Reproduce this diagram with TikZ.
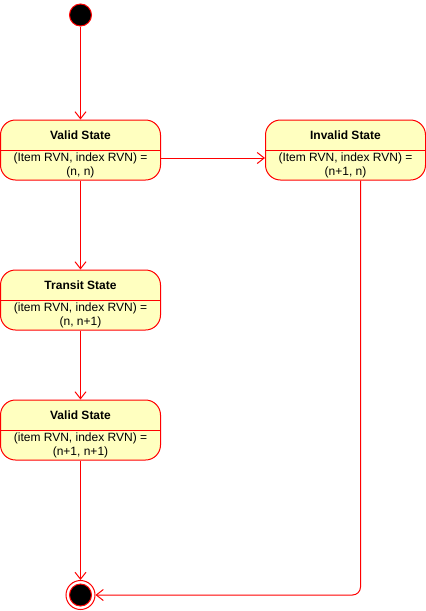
\documentclass[tikz,border=0pt]{standalone}
\usepackage{fontspec}
\setmainfont{Liberation Sans}
\usetikzlibrary{arrows.meta, positioning, calc}
\definecolor{statefill}{RGB}{255, 255, 192}
\definecolor{statered}{RGB}{255, 0, 0}

\tikzset{
  state/.style={draw=statered, fill=statefill, line width=1pt, rounded corners=15pt, minimum width=160pt, minimum height=60pt, inner sep=0pt},
  statetitle/.style={font=\fontsize{12}{14}\selectfont\bfseries, inner sep=0pt},
  statebody/.style={font=\fontsize{12}{14}\selectfont, align=center, inner sep=0pt},
  divider/.style={draw=statered, line width=1pt},
  flow/.style={draw=statered, line width=1pt, -{Straight Barb[length=7pt, width=11pt]}},
  startdot/.style={circle, draw=statered, fill=black, line width=1pt, minimum size=22pt, inner sep=0pt},
  endring/.style={circle, draw=statered, fill=white, line width=1pt, minimum size=29pt, inner sep=0pt},
}

\begin{document}
\begin{tikzpicture}[x=1pt, y=-1pt]
    \useasboundingbox (0,0) rectangle (426,611);

    % Initial state
    \node[startdot] (start) at (80.5,15) {};

    % Valid State (n, n)
    \node[state] (valid) at (80.5,150) {};
    \draw[divider] (valid.west) -- (valid.east);
    \node[statetitle] (valid-title) at ([yshift=15pt]valid.center) {Valid State};
    \node[statebody] (valid-body) at ([yshift=-15pt]valid.center) {(Item RVN, index RVN) =\\(n, n)};

    % Invalid State
    \node[state] (invalid) at (345.5,150) {};
    \draw[divider] (invalid.west) -- (invalid.east);
    \node[statetitle] (invalid-title) at ([yshift=15pt]invalid.center) {Invalid State};
    \node[statebody] (invalid-body) at ([yshift=-15pt]invalid.center) {(Item RVN, index RVN) =\\(n+1, n)};

    % Transit State
    \node[state] (transit) at (80.5,300) {};
    \draw[divider] (transit.west) -- (transit.east);
    \node[statetitle] (transit-title) at ([yshift=15pt]transit.center) {Transit State};
    \node[statebody] (transit-body) at ([yshift=-15pt]transit.center) {(item RVN, index RVN) =\\(n, n+1)};

    % Valid State (n+1, n+1)
    \node[state] (valid2) at (80.5,430) {};
    \draw[divider] (valid2.west) -- (valid2.east);
    \node[statetitle] (valid2-title) at ([yshift=15pt]valid2.center) {Valid State};
    \node[statebody] (valid2-body) at ([yshift=-15pt]valid2.center) {(item RVN, index RVN) =\\(n+1, n+1)};

    % Final state
    \node[endring] (final) at (80.5,595) {};
    \node[startdot] (final-dot) at (final.center) {};

    % Transitions
    \draw[flow] (start.south) -- (valid.north);
    \draw[flow] ([yshift=-8pt]valid.east) -- ([yshift=-8pt]invalid.west);
    \draw[flow] (valid.south) -- (transit.north);
    \draw[flow] (transit.south) -- (valid2.north);
    \draw[flow] (valid2.south) -- (final.north);
    \draw[flow, rounded corners=8pt] ([xshift=15pt]invalid.south) |- (final.east);

\end{tikzpicture}
\end{document}
